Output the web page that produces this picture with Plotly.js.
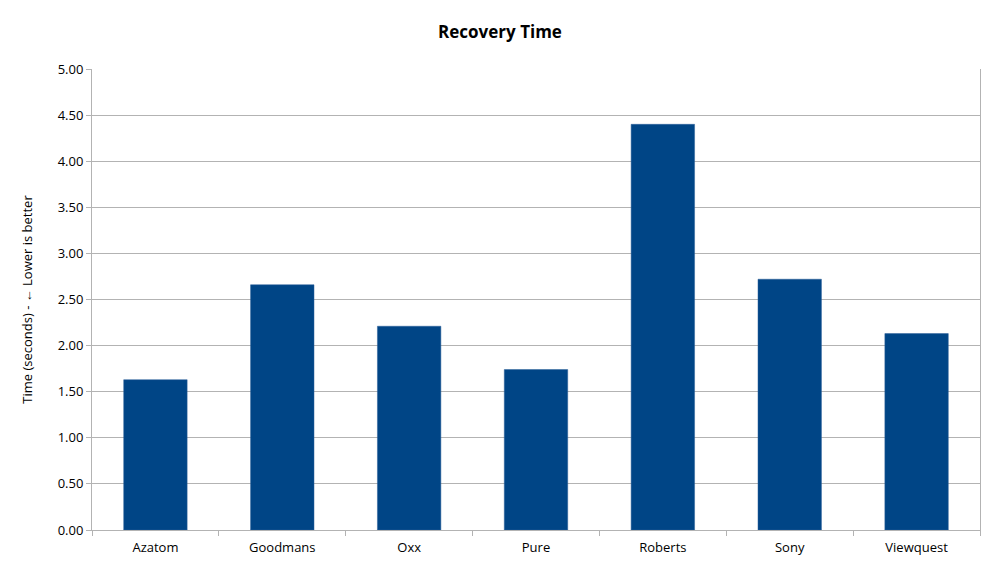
<!DOCTYPE html>
<html>
<head>
<meta charset="utf-8">
<script src="https://cdn.plot.ly/plotly-3.0.1.min.js"></script>
<style>
  html, body { margin: 0; padding: 0; background: #fff; }
  #chart { width: 1000px; height: 567px; }
</style>
</head>
<body>
<div id="chart"></div>
<script>
var brands = ["Azatom", "Goodmans", "Oxx", "Pure", "Roberts", "Sony", "Viewquest"];
var recoverySeconds = [1.63, 2.66, 2.21, 1.74, 4.40, 2.72, 2.13];
var yTicks = [0, 0.5, 1, 1.5, 2, 2.5, 3, 3.5, 4, 4.5, 5];

var trace = {
    type: "bar",
    x: brands,
    y: recoverySeconds,
    width: 0.5,
    marker: { color: "#004586", line: { color: "#2a5f99", width: 0.5 } },
    hoverinfo: "x+y"
};

var layout = {
    width: 1000,
    height: 567,
    paper_bgcolor: "#ffffff",
    plot_bgcolor: "#ffffff",
    font: { family: "Open Sans, sans-serif", size: 13, color: "#000000" },
    title: {
        text: "<b>Recovery Time</b>",
        font: { size: 17, color: "#000000" },
        x: 0.5, xanchor: "center",
        y: 0.944, yanchor: "middle"
    },
    margin: { l: 92, r: 20, t: 69, b: 37 },
    showlegend: false,
    bargap: 0.5,
    xaxis: {
        tickson: "boundaries",
        ticks: "outside",
        ticklen: 5,
        tickcolor: "#b3b3b3",
        ticklabelstandoff: 5,
        showline: true,
        linecolor: "#b3b3b3",
        linewidth: 1,
        showgrid: false,
        tickfont: { size: 13 }
    },
    yaxis: {
        range: [0, 5],
        tickvals: yTicks,
        ticktext: yTicks.map(function (v) { return v.toFixed(2); }),
        ticks: "outside",
        ticklen: 5,
        tickcolor: "#b3b3b3",
        showline: true,
        mirror: true,
        linecolor: "#b3b3b3",
        linewidth: 1,
        showgrid: true,
        gridcolor: "#b3b3b3",
        gridwidth: 1,
        zeroline: false,
        tickfont: { size: 13 },
        title: {
            text: "Time (seconds) - \u2190 Lower is better",
            font: { size: 13 },
            standoff: 22
        }
    }
};

Plotly.newPlot("chart", [trace], layout, { displayModeBar: false, staticPlot: true });
</script>
</body>
</html>
